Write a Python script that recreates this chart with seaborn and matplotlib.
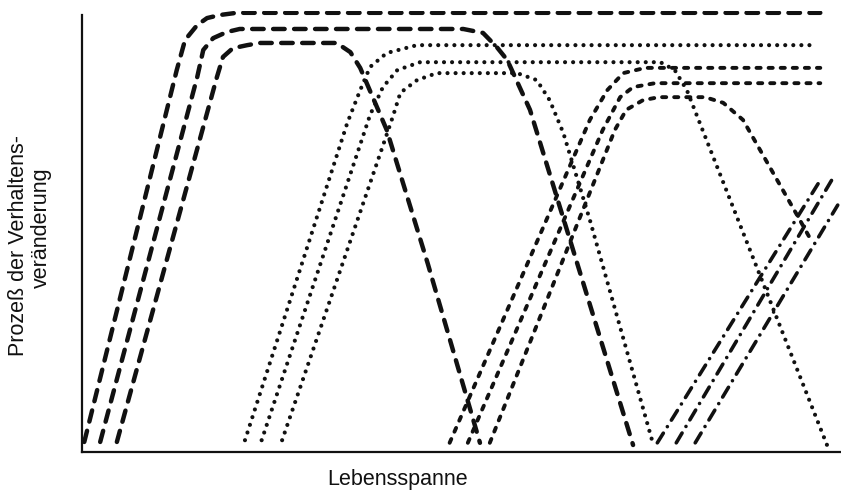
import matplotlib
matplotlib.use("Agg")
import matplotlib.pyplot as plt
import seaborn as sns
import pandas as pd

sns.set_theme(style="white")
plt.rcParams['font.family'] = ['Liberation Sans', 'DejaVu Sans']
plt.rcParams['lines.scale_dashes'] = False

# ---- data (x: Lebensspanne 0-100, y: Prozeß der Verhaltensveränderung 0-100) ----
# group 1: long dashes
g1a_x = [0.3, 12.5, 13.6, 15.2, 16.5, 18.2, 20.4, 97.4]
g1a_y = [2.3, 87.4, 94.3, 97.7, 99.3, 100.0, 100.5, 100.5]
g1b_x = [2.4, 15.2, 16.0, 17.3, 19.1, 20.8, 50.3, 52.9, 54.7, 56.1, 59.1, 72.7]
g1b_y = [2.3, 85.8, 92.0, 94.7, 96.1, 96.8, 96.8, 95.9, 92.7, 89.7, 78.3, 1.6]
g1c_x = [4.6, 17.8, 18.6, 19.9, 21.8, 23.5, 33.6, 35.4, 36.7, 40.2, 45.6, 52.5]
g1c_y = [2.3, 85.8, 90.4, 92.4, 93.1, 93.6, 93.6, 91.5, 87.9, 73.7, 43.2, 2.1]
# group 2: dotted
g2a_x = [21.5, 35.0, 36.7, 38.0, 40.2, 44.2, 97.0]
g2a_y = [2.7, 75.3, 82.8, 88.1, 91.3, 93.1, 93.1]
g2b_x = [23.7, 38.0, 39.7, 41.6, 44.6, 76.3, 78.2, 79.8, 81.5, 98.4]
g2b_y = [2.7, 77.1, 83.5, 87.4, 89.2, 89.2, 87.4, 82.8, 75.3, 1.1]
g2c_x = [26.4, 41.0, 42.0, 44.2, 46.8, 57.4, 60.0, 61.7, 63.5, 67.0, 75.3]
g2c_y = [2.7, 76.7, 82.2, 85.1, 86.7, 86.7, 85.1, 80.5, 73.0, 53.1, 2.1]
# group 3: short dashes
g3a_x = [48.5, 67.0, 69.3, 71.4, 74.3, 97.4]
g3a_y = [2.1, 76.0, 82.8, 86.7, 87.9, 87.9]
g3b_x = [50.9, 68.7, 71.0, 72.7, 75.6, 97.4]
g3b_y = [2.1, 73.7, 81.2, 83.5, 84.4, 84.4]
g3c_x = [53.8, 70.3, 71.8, 74.0, 76.1, 82.2, 84.6, 87.2, 94.7, 96.3]
g3c_y = [2.1, 73.7, 78.3, 80.5, 81.2, 81.2, 79.9, 76.0, 53.1, 48.1]
# group 4: dash-dot
g4a_x = [75.9, 97.4]
g4a_y = [2.1, 62.2]
g4b_x = [78.4, 98.9]
g4b_y = [2.1, 62.2]
g4c_x = [80.9, 99.7]
g4c_y = [2.1, 56.5]

y_label_1 = "Prozeß der Verhaltens-"
y_label_2 = "veränderung"
x_label = "Lebensspanne"

styles = {
    "long": dict(linewidth=3.2, linestyle=(0, (8.3, 6.8))),
    "dot": dict(linewidth=3.0, linestyle=(0, (0.01, 5.8))),
    "short": dict(linewidth=2.8, linestyle=(0, (3.0, 5.7))),
    "dashdot": dict(linewidth=2.6, linestyle=(0, (8.2, 5.5, 0.01, 5.5))),
}

curves = [
    (g1a_x, g1a_y, "long"), (g1b_x, g1b_y, "long"), (g1c_x, g1c_y, "long"),
    (g2a_x, g2a_y, "dot"), (g2b_x, g2b_y, "dot"), (g2c_x, g2c_y, "dot"),
    (g3a_x, g3a_y, "short"), (g3b_x, g3b_y, "short"), (g3c_x, g3c_y, "short"),
    (g4a_x, g4a_y, "dashdot"), (g4b_x, g4b_y, "dashdot"), (g4c_x, g4c_y, "dashdot"),
]

W, H = 841, 493
fig = plt.figure(figsize=(W / 100, H / 100), dpi=100)
fig.patch.set_facecolor("white")
ax_top_px = 452 - 101 * 4.37
ax = fig.add_axes([82 / W, (H - 452) / H, (840 - 82) / W, (452 - ax_top_px) / H])
ax.set_facecolor("white")

for xs, ys, st in curves:
    df = pd.DataFrame({"x": xs, "y": ys})
    sns.lineplot(data=df, x="x", y="y", sort=False, estimator=None, ax=ax,
                 color="#111111", dash_capstyle="round", solid_capstyle="round",
                 **styles[st])

ax.set_xlim(0, 100)
ax.set_ylim(0, 101)
ax.set_xticks([])
ax.set_yticks([])
ax.set_xlabel("")
ax.set_ylabel("")
for s in ["top", "right"]:
    ax.spines[s].set_visible(False)
for s in ["left", "bottom"]:
    ax.spines[s].set_visible(True)
    ax.spines[s].set_color("#111111")
    ax.spines[s].set_linewidth(1.6)
ax.spines["left"].set_bounds(0, 100)

fig.text(19 / W, 1 - 246 / H, y_label_1, rotation=90, ha="center", va="center",
         fontsize=15.5, color="#111111")
fig.text(41 / W, 1 - 228 / H, y_label_2, rotation=90, ha="center", va="center",
         fontsize=15.5, color="#111111")
fig.text(398 / W, 1 - 479 / H, x_label, ha="center", va="center",
         fontsize=15.5, color="#111111")

fig.savefig("out.png", dpi=100, facecolor="white")
